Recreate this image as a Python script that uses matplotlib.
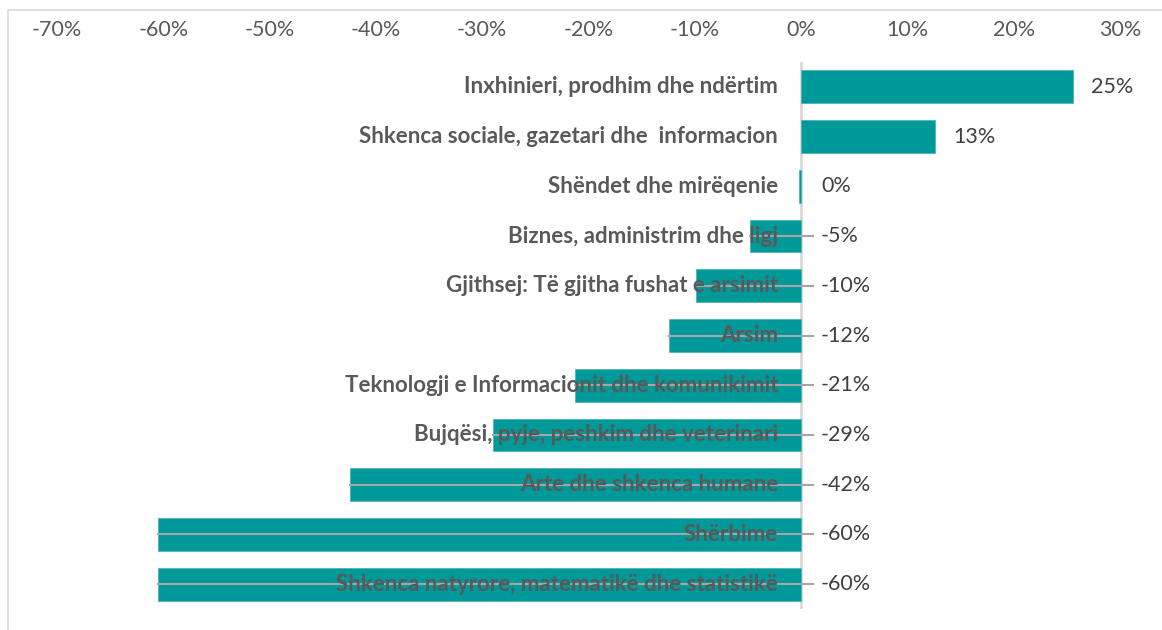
import matplotlib
matplotlib.use("Agg")
import matplotlib.pyplot as plt
from matplotlib.patches import Rectangle
from matplotlib.ticker import FuncFormatter

# fushat e arsimit, ndryshimi ne perqindje
categories = [
    "Inxhinieri, prodhim dhe ndërtim",
    "Shkenca sociale, gazetari dhe  informacion",
    "Shëndet dhe mirëqenie",
    "Biznes, administrim dhe ligj",
    "Gjithsej: Të gjitha fushat e arsimit",
    "Arsim",
    "Teknologji e Informacionit dhe komunikimit",
    "Bujqësi, pyje, peshkim dhe veterinari",
    "Arte dhe shkenca humane",
    "Shërbime",
    "Shkenca natyrore, matematikë dhe statistikë",
]
values = [0.256, 0.126, -0.002, -0.048, -0.099, -0.124, -0.213, -0.290, -0.424, -0.605, -0.605]
value_labels = ["25%", "13%", "0%", "-5%", "-10%", "-12%", "-21%", "-29%", "-42%", "-60%", "-60%"]
xticks = [-0.7, -0.6, -0.5, -0.4, -0.3, -0.2, -0.1, 0.0, 0.1, 0.2, 0.3]

teal = "#009999"
grey_txt = "#595959"
font = ["Lato", "DejaVu Sans"]

W, H = 1162, 630
fig = plt.figure(figsize=(W / 100, H / 100), dpi=100)
fig.patch.set_facecolor("white")

# outer frame
fig.patches.append(Rectangle((8 / W, -0.01), 1.0, (H - 10) / H + 0.01,
                             transform=fig.transFigure, fill=False,
                             edgecolor="#d9d9d9", linewidth=1.2))

ax = fig.add_axes([57 / W, (H - 609) / H, (1120 - 57) / W, (609 - 62) / H])
ypos = list(range(len(categories)))

ax.barh(ypos, values, height=0.66, color=teal, edgecolor="#4fb5b5",
        linewidth=0.6, zorder=2)

ax.set_xlim(-0.70, 0.30)
ax.set_ylim(len(categories) - 0.5, -0.5)
ax.axvline(0, color="#d9d9d9", linewidth=2, zorder=1)

ax.xaxis.tick_top()
ax.set_xticks(xticks)
ax.xaxis.set_major_formatter(FuncFormatter(lambda v, p: "%d%%" % round(v * 100)))
ax.tick_params(axis="x", length=0, pad=16, labelsize=15.5, labelcolor=grey_txt)
for lab in ax.get_xticklabels():
    lab.set_family(font)
ax.set_yticks([])
for s in ax.spines.values():
    s.set_visible(False)

for y, v, lbl, cat in zip(ypos, values, value_labels, categories):
    if v < -0.01:
        # leader line from end of bar to label
        ax.plot([v, 0.011], [y, y], color="#a6a6a6", linewidth=1.5, zorder=3)
    off = 18 if v >= 0 else 20
    ax.annotate(lbl, xy=(max(v, 0), y), xytext=(off, 0), textcoords="offset pixels",
                ha="left", va="center", fontsize=15.5, color="#404040",
                family=font, zorder=4)
    ax.annotate(cat, xy=(0, y), xytext=(-23, 0), textcoords="offset pixels",
                ha="right", va="center", fontsize=16, fontweight="bold",
                color=grey_txt, family=font, zorder=4)

fig.savefig("out.png", dpi=100)
